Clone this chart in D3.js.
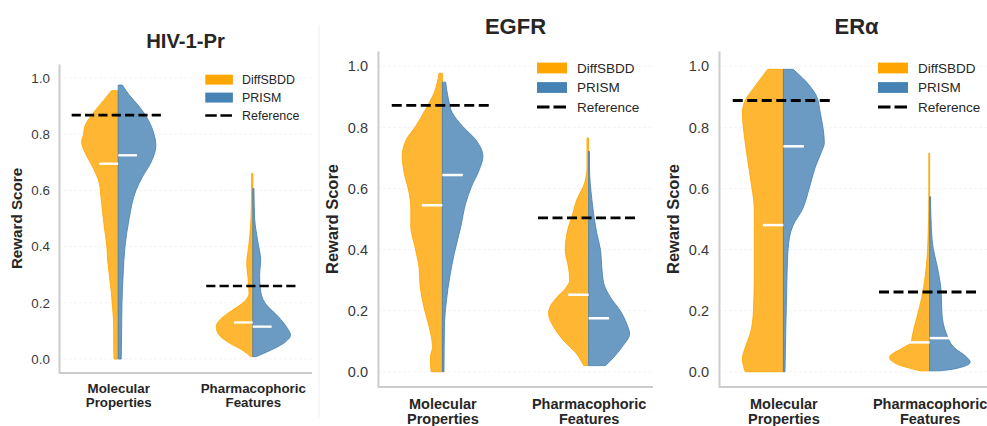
<!DOCTYPE html>
<html>
<head>
<meta charset="utf-8">
<script src="https://cdn.jsdelivr.net/npm/d3@7"></script>
<style>
  body { margin: 0; background: #fff; }
  text { font-family: "Liberation Sans", Arial, sans-serif; }
</style>
</head>
<body>
<div id="chart"></div>
<script>
// ---- data ----
var titles = ["HIV-1-Pr", "EGFR", "ERα"];
var categories = [["Molecular", "Properties"], ["Pharmacophoric", "Features"]];
var methods = ["DiffSBDD", "PRISM", "Reference"];
var yTicks = [0, 0.2, 0.4, 0.6, 0.8, 1.0];

// violin profiles: [score, relative density]
var hivMolDiff = [[0.955,0.18],[0.92,0.39],[0.874,0.67],[0.827,0.89],[0.8,0.92],[0.773,0.97],[0.732,0.87],[0.684,0.68],[0.625,0.50],[0.566,0.45],[0.471,0.37],[0.4,0.30],[0.352,0.28],[0.235,0.18],[0.2,0.16],[0.115,0.12],[0.044,0.12],[0,0.11]];
var hivMolPrism = [[0.975,0.11],[0.94,0.29],[0.9,0.55],[0.85,0.80],[0.8,0.95],[0.76,1.0],[0.7,0.87],[0.65,0.65],[0.6,0.47],[0.5,0.29],[0.4,0.18],[0.3,0.13],[0.2,0.10],[0.1,0.09],[0,0.08]];
var hivPhaDiff = [[0.66,0.03],[0.53,0.04],[0.41,0.10],[0.34,0.16],[0.28,0.12],[0.233,0.10],[0.2,0.26],[0.17,0.58],[0.14,0.87],[0.115,0.97],[0.09,0.92],[0.06,0.66],[0.03,0.26],[0.008,0.05]];
var hivPhaPrism = [[0.607,0.03],[0.5,0.05],[0.42,0.13],[0.35,0.21],[0.3,0.18],[0.25,0.2],[0.2,0.32],[0.15,0.68],[0.115,0.89],[0.085,1.0],[0.056,0.82],[0.026,0.39],[0.008,0.08]];

var egfrMolDiff = [[0.977,0.08],[0.913,0.20],[0.859,0.41],[0.804,0.65],[0.76,0.88],[0.705,0.98],[0.65,0.93],[0.585,0.81],[0.53,0.77],[0.475,0.77],[0.409,0.67],[0.343,0.57],[0.277,0.54],[0.211,0.45],[0.146,0.32],[0.08,0.24],[0.05,0.29],[0.025,0.29],[0,0.27]];
var egfrMolPrism = [[0.948,0.08],[0.891,0.15],[0.848,0.24],[0.804,0.49],[0.76,0.81],[0.705,0.99],[0.661,0.90],[0.606,0.71],[0.552,0.57],[0.475,0.45],[0.387,0.29],[0.31,0.18],[0.234,0.10],[0.146,0.05],[0,0.04]];
var egfrPhaDiff = [[0.765,0.04],[0.672,0.04],[0.617,0.10],[0.5625,0.29],[0.507,0.41],[0.453,0.53],[0.398,0.57],[0.34,0.49],[0.3,0.46],[0.27,0.58],[0.24,0.80],[0.21,0.95],[0.19,0.98],[0.146,0.85],[0.102,0.61],[0.058,0.29],[0.02,0.12]];
var egfrPhaPrism = [[0.721,0.02],[0.672,0.02],[0.5625,0.08],[0.453,0.20],[0.398,0.29],[0.343,0.32],[0.289,0.37],[0.244,0.53],[0.2,0.77],[0.157,0.93],[0.124,1.0],[0.08,0.81],[0.047,0.61],[0.02,0.41]];

var eraMolDiff = [[0.99,0.38],[0.935,0.69],[0.891,0.92],[0.848,1.0],[0.749,0.93],[0.639,0.81],[0.53,0.71],[0.42,0.71],[0.31,0.71],[0.2,0.73],[0.124,0.81],[0.08,0.93],[0.042,1.0],[0,0.93]];
var eraMolPrism = [[0.99,0.24],[0.935,0.65],[0.902,0.81],[0.848,0.90],[0.749,1.0],[0.72,0.93],[0.67,0.78],[0.6,0.63],[0.53,0.46],[0.48,0.24],[0.44,0.15],[0.365,0.10],[0.256,0.08],[0.146,0.06],[0,0.04]];
var eraPhaDiff = [[0.716,0.02],[0.573,0.02],[0.431,0.04],[0.321,0.10],[0.244,0.19],[0.179,0.31],[0.113,0.43],[0.096,0.45],[0.08,0.63],[0.047,0.98],[0.025,0.80],[0.003,0.23]];
var eraPhaPrism = [[0.573,0.02],[0.431,0.06],[0.321,0.22],[0.266,0.28],[0.19,0.30],[0.124,0.41],[0.08,0.59],[0.047,0.91],[0.031,0.99],[0.009,0.59],[0.003,0.24]];

// medians per category [molecular, pharmacophoric]
var hivMedDiff = [0.695, 0.13],  hivMedPrism = [0.725, 0.115];
var egfrMedDiff = [0.545, 0.252], egfrMedPrism = [0.644, 0.175];
var eraMedDiff = [0.48, 0.096],  eraMedPrism = [0.738, 0.11];

// reference scores per category
var hivRef = [0.868, 0.26];
var egfrRef = [0.872, 0.504];
var eraRef = [0.888, 0.261];

// ---- drawing ----
var w = 987, h = 426;
var orange = "#FFA500", blue = "#4682B4";

var panelData = [
  { diff: [hivMolDiff, hivPhaDiff], prism: [hivMolPrism, hivPhaPrism], medDiff: hivMedDiff, medPrism: hivMedPrism, ref: hivRef },
  { diff: [egfrMolDiff, egfrPhaDiff], prism: [egfrMolPrism, egfrPhaPrism], medDiff: egfrMedDiff, medPrism: egfrMedPrism, ref: egfrRef },
  { diff: [eraMolDiff, eraPhaDiff], prism: [eraMolPrism, eraPhaPrism], medDiff: eraMedDiff, medPrism: eraMedPrism, ref: eraRef }
];

var layout = [
  { left: 59,  top: 64, bottom: 373, width: 253, k: 0.92 },
  { left: 378, top: 51, bottom: 387, width: 275, k: 1 },
  { left: 719, top: 51, bottom: 387, width: 275, k: 1 }
];

var svg = d3.select("#chart").append("svg")
    .attr("width", w)
    .attr("height", h);

svg.append("rect").attr("width", w).attr("height", h).attr("fill", "#fff");

// faint separator next to the first panel
svg.append("line")
    .attr("x1", 319).attr("x2", 319)
    .attr("y1", 25).attr("y2", 417)
    .attr("stroke", "#eeeeee").attr("stroke-width", 1);

panelData.forEach(function(p, i) {
    var L = layout[i], k = L.k;
    var g = svg.append("g");

    var yScale = d3.scaleLinear()
        .domain([-0.05, 1.05])
        .range([L.bottom, L.top]);

    var xScale = d3.scalePoint()
        .domain([0, 1])
        .range([L.left, L.left + L.width])
        .padding(0.44);

    var step = xScale.step();
    var wScale = d3.scaleLinear().domain([0, 1]).range([0, 0.28 * step]);

    // grid
    g.selectAll(".grid")
        .data(yTicks)
        .enter().append("line")
        .attr("x1", L.left).attr("x2", L.left + L.width)
        .attr("y1", function(d) { return yScale(d); })
        .attr("y2", function(d) { return yScale(d); })
        .attr("stroke", "#f1f1f1")
        .attr("stroke-width", 0.8)
        .attr("stroke-dasharray", "3,2");

    // y axis
    var yAxis = d3.axisLeft(yScale)
        .tickValues(yTicks)
        .tickFormat(d3.format(".1f"))
        .tickSize(0)
        .tickSizeOuter(0)
        .tickPadding(10 * k);

    var ya = g.append("g")
        .attr("transform", "translate(" + L.left + ",0)")
        .call(yAxis);
    ya.select(".domain").attr("stroke", "#cccccc").attr("stroke-width", 2);
    ya.selectAll("text")
        .attr("fill", "#3a3a3a")
        .style("font-size", (14.5 * k) + "px");

    // x axis
    var xAxis = d3.axisBottom(xScale).tickSize(0).tickSizeOuter(0);
    var xa = g.append("g")
        .attr("transform", "translate(0," + L.bottom + ")")
        .call(xAxis);
    xa.select(".domain")
        .attr("d", "M" + L.left + ",0H" + (L.left + L.width))
        .attr("stroke", "#cccccc").attr("stroke-width", 2);
    xa.selectAll("text").each(function(d) {
        var t = d3.select(this).text("").attr("y", 0).attr("dy", 0)
            .attr("fill", "#262626")
            .style("font-size", (14.5 * k) + "px")
            .style("font-weight", "bold");
        categories[d].forEach(function(line, j) {
            t.append("tspan")
                .attr("x", 0)
                .attr("y", 22 * k + j * 14.7 * k)
                .text(line);
        });
    });

    // violins
    function half(side) {
        return d3.area()
            .curve(d3.curveMonotoneY)
            .y(function(d) { return yScale(d[0]); })
            .x0(function() { return 0; })
            .x1(function(d) { return side * wScale(d[1]); });
    }

    [0, 1].forEach(function(c) {
        var cx = xScale(c);
        var vg = g.append("g").attr("transform", "translate(" + cx + ",0)");

        vg.append("path")
            .datum(p.diff[c])
            .attr("d", half(-1))
            .attr("fill", orange).attr("fill-opacity", 0.8)
            .attr("stroke", orange).attr("stroke-opacity", 0.85).attr("stroke-width", 1);

        vg.append("path")
            .datum(p.prism[c])
            .attr("d", half(1))
            .attr("fill", blue).attr("fill-opacity", 0.8)
            .attr("stroke", blue).attr("stroke-opacity", 0.85).attr("stroke-width", 1);

        // medians
        vg.append("line")
            .attr("x1", -0.14 * step).attr("x2", 0)
            .attr("y1", yScale(p.medDiff[c])).attr("y2", yScale(p.medDiff[c]))
            .attr("stroke", "#fff").attr("stroke-width", 2.5 * k);
        vg.append("line")
            .attr("x1", 0).attr("x2", 0.14 * step)
            .attr("y1", yScale(p.medPrism[c])).attr("y2", yScale(p.medPrism[c]))
            .attr("stroke", "#fff").attr("stroke-width", 2.5 * k);

        // reference
        vg.append("line")
            .attr("x1", -0.346 * step).attr("x2", 0.346 * step)
            .attr("y1", yScale(p.ref[c])).attr("y2", yScale(p.ref[c]))
            .attr("stroke", "#000").attr("stroke-width", 2.8 * k)
            .attr("stroke-dasharray", (10 * k) + "," + (4.5 * k));
    });

    // title
    g.append("text")
        .attr("x", L.left + L.width / 2)
        .attr("y", L.top - 17.5 * k)
        .attr("text-anchor", "middle")
        .attr("fill", "#262626")
        .style("font-size", (22 * k) + "px")
        .style("font-weight", "bold")
        .text(titles[i]);

    // y label
    g.append("text")
        .attr("transform", "translate(" + (L.left - 45.7 * k) + "," + ((L.top + L.bottom) / 2) + ") rotate(-90)")
        .attr("text-anchor", "middle")
        .attr("dominant-baseline", "central")
        .attr("fill", "#262626")
        .style("font-size", (16.5 * k) + "px")
        .style("font-weight", "bold")
        .text("Reward Score");

    // legend
    var lg = g.append("g")
        .attr("transform", "translate(" + (L.left + 159 * k) + "," + (L.top + 17 * k) + ")");
    methods.forEach(function(m, j) {
        var row = lg.append("g").attr("transform", "translate(0," + (j * 19.5 * k) + ")");
        if (j < 2) {
            row.append("rect")
                .attr("x", 0).attr("y", -5.4 * k)
                .attr("width", 30 * k).attr("height", 10.8 * k)
                .attr("fill", j === 0 ? orange : blue);
        } else {
            row.append("line")
                .attr("x1", 0).attr("x2", 29 * k)
                .attr("stroke", "#000").attr("stroke-width", 2.8 * k)
                .attr("stroke-dasharray", (12.5 * k) + "," + (4 * k));
        }
        row.append("text")
            .attr("x", 40 * k)
            .attr("dy", "0.35em")
            .attr("fill", "#262626")
            .style("font-size", (13.5 * k) + "px")
            .text(m);
    });
});
</script>
</body>
</html>
